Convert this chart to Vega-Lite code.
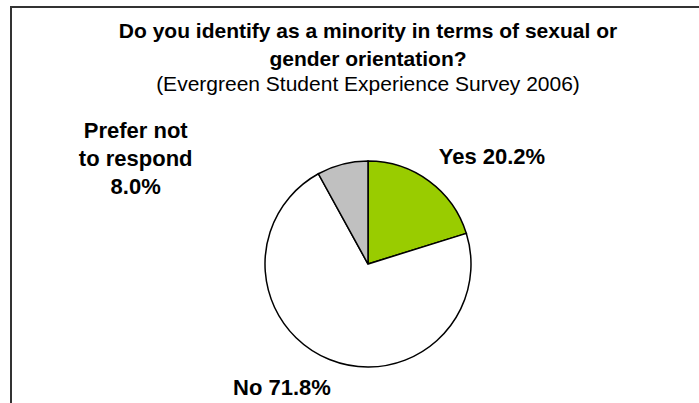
{
  "$schema": "https://vega.github.io/schema/vega-lite/v6.json",
  "width": 714,
  "height": 514,
  "autosize": {"type": "none"},
  "padding": {"left": 11, "top": 7, "right": -26, "bottom": -118},
  "background": "white",
  "view": {"stroke": "#333333", "strokeWidth": 2, "fill": "white"},
  "title": {
    "text": ["Do you identify as a minority in terms of sexual or", "gender orientation?"],
    "subtitle": "(Evergreen Student Experience Survey 2006)",
    "anchor": "middle",
    "frame": "group",
    "orient": "top",
    "offset": -88,
    "font": "Liberation Sans",
    "fontSize": 21,
    "fontWeight": "bold",
    "lineHeight": 28,
    "color": "black",
    "subtitleFont": "Liberation Sans",
    "subtitleFontSize": 21,
    "subtitleFontWeight": "normal",
    "subtitleColor": "black",
    "subtitlePadding": 4
  },
  "data": {
    "values": [
      {"answer": "Yes", "percent": 20.2, "rank": 1, "label": "Yes 20.2%"},
      {"answer": "No", "percent": 71.8, "rank": 2, "label": "No 71.8%"},
      {"answer": "Prefer not to respond", "percent": 8.0, "rank": 3, "label": "Prefer not\nto respond\n8.0%"}
    ]
  },
  "encoding": {
    "theta": {"field": "percent", "type": "quantitative", "stack": true},
    "order": {"field": "rank", "type": "quantitative"}
  },
  "layer": [
    {
      "mark": {"type": "arc", "outerRadius": 103, "stroke": "black", "strokeWidth": 1.5},
      "encoding": {
        "color": {
          "field": "answer",
          "type": "nominal",
          "scale": {"domain": ["Yes", "No", "Prefer not to respond"], "range": ["#99CC00", "#FFFFFF", "#C0C0C0"]},
          "legend": null
        }
      }
    },
    {
      "mark": {"type": "text", "radius": 150, "dx": 35, "dy": 14, "font": "Liberation Sans", "fontSize": 22, "fontWeight": "bold", "align": "center", "baseline": "middle", "color": "black"},
      "encoding": {
        "text": {"condition": {"test": "datum.answer === 'Yes'", "field": "label"}, "value": ""}
      }
    },
    {
      "mark": {"type": "text", "radius": 150, "dx": -30, "dy": -15, "font": "Liberation Sans", "fontSize": 22, "fontWeight": "bold", "align": "center", "baseline": "middle", "color": "black"},
      "encoding": {
        "text": {"condition": {"test": "datum.answer === 'No'", "field": "label"}, "value": ""}
      }
    },
    {
      "mark": {"type": "text", "radius": 150, "dx": -195, "dy": 12, "font": "Liberation Sans", "fontSize": 22, "fontWeight": "bold", "align": "center", "baseline": "middle", "lineBreak": "\n", "lineHeight": 28, "color": "black"},
      "encoding": {
        "text": {"condition": {"test": "datum.answer === 'Prefer not to respond'", "field": "label"}, "value": ""}
      }
    }
  ]
}
